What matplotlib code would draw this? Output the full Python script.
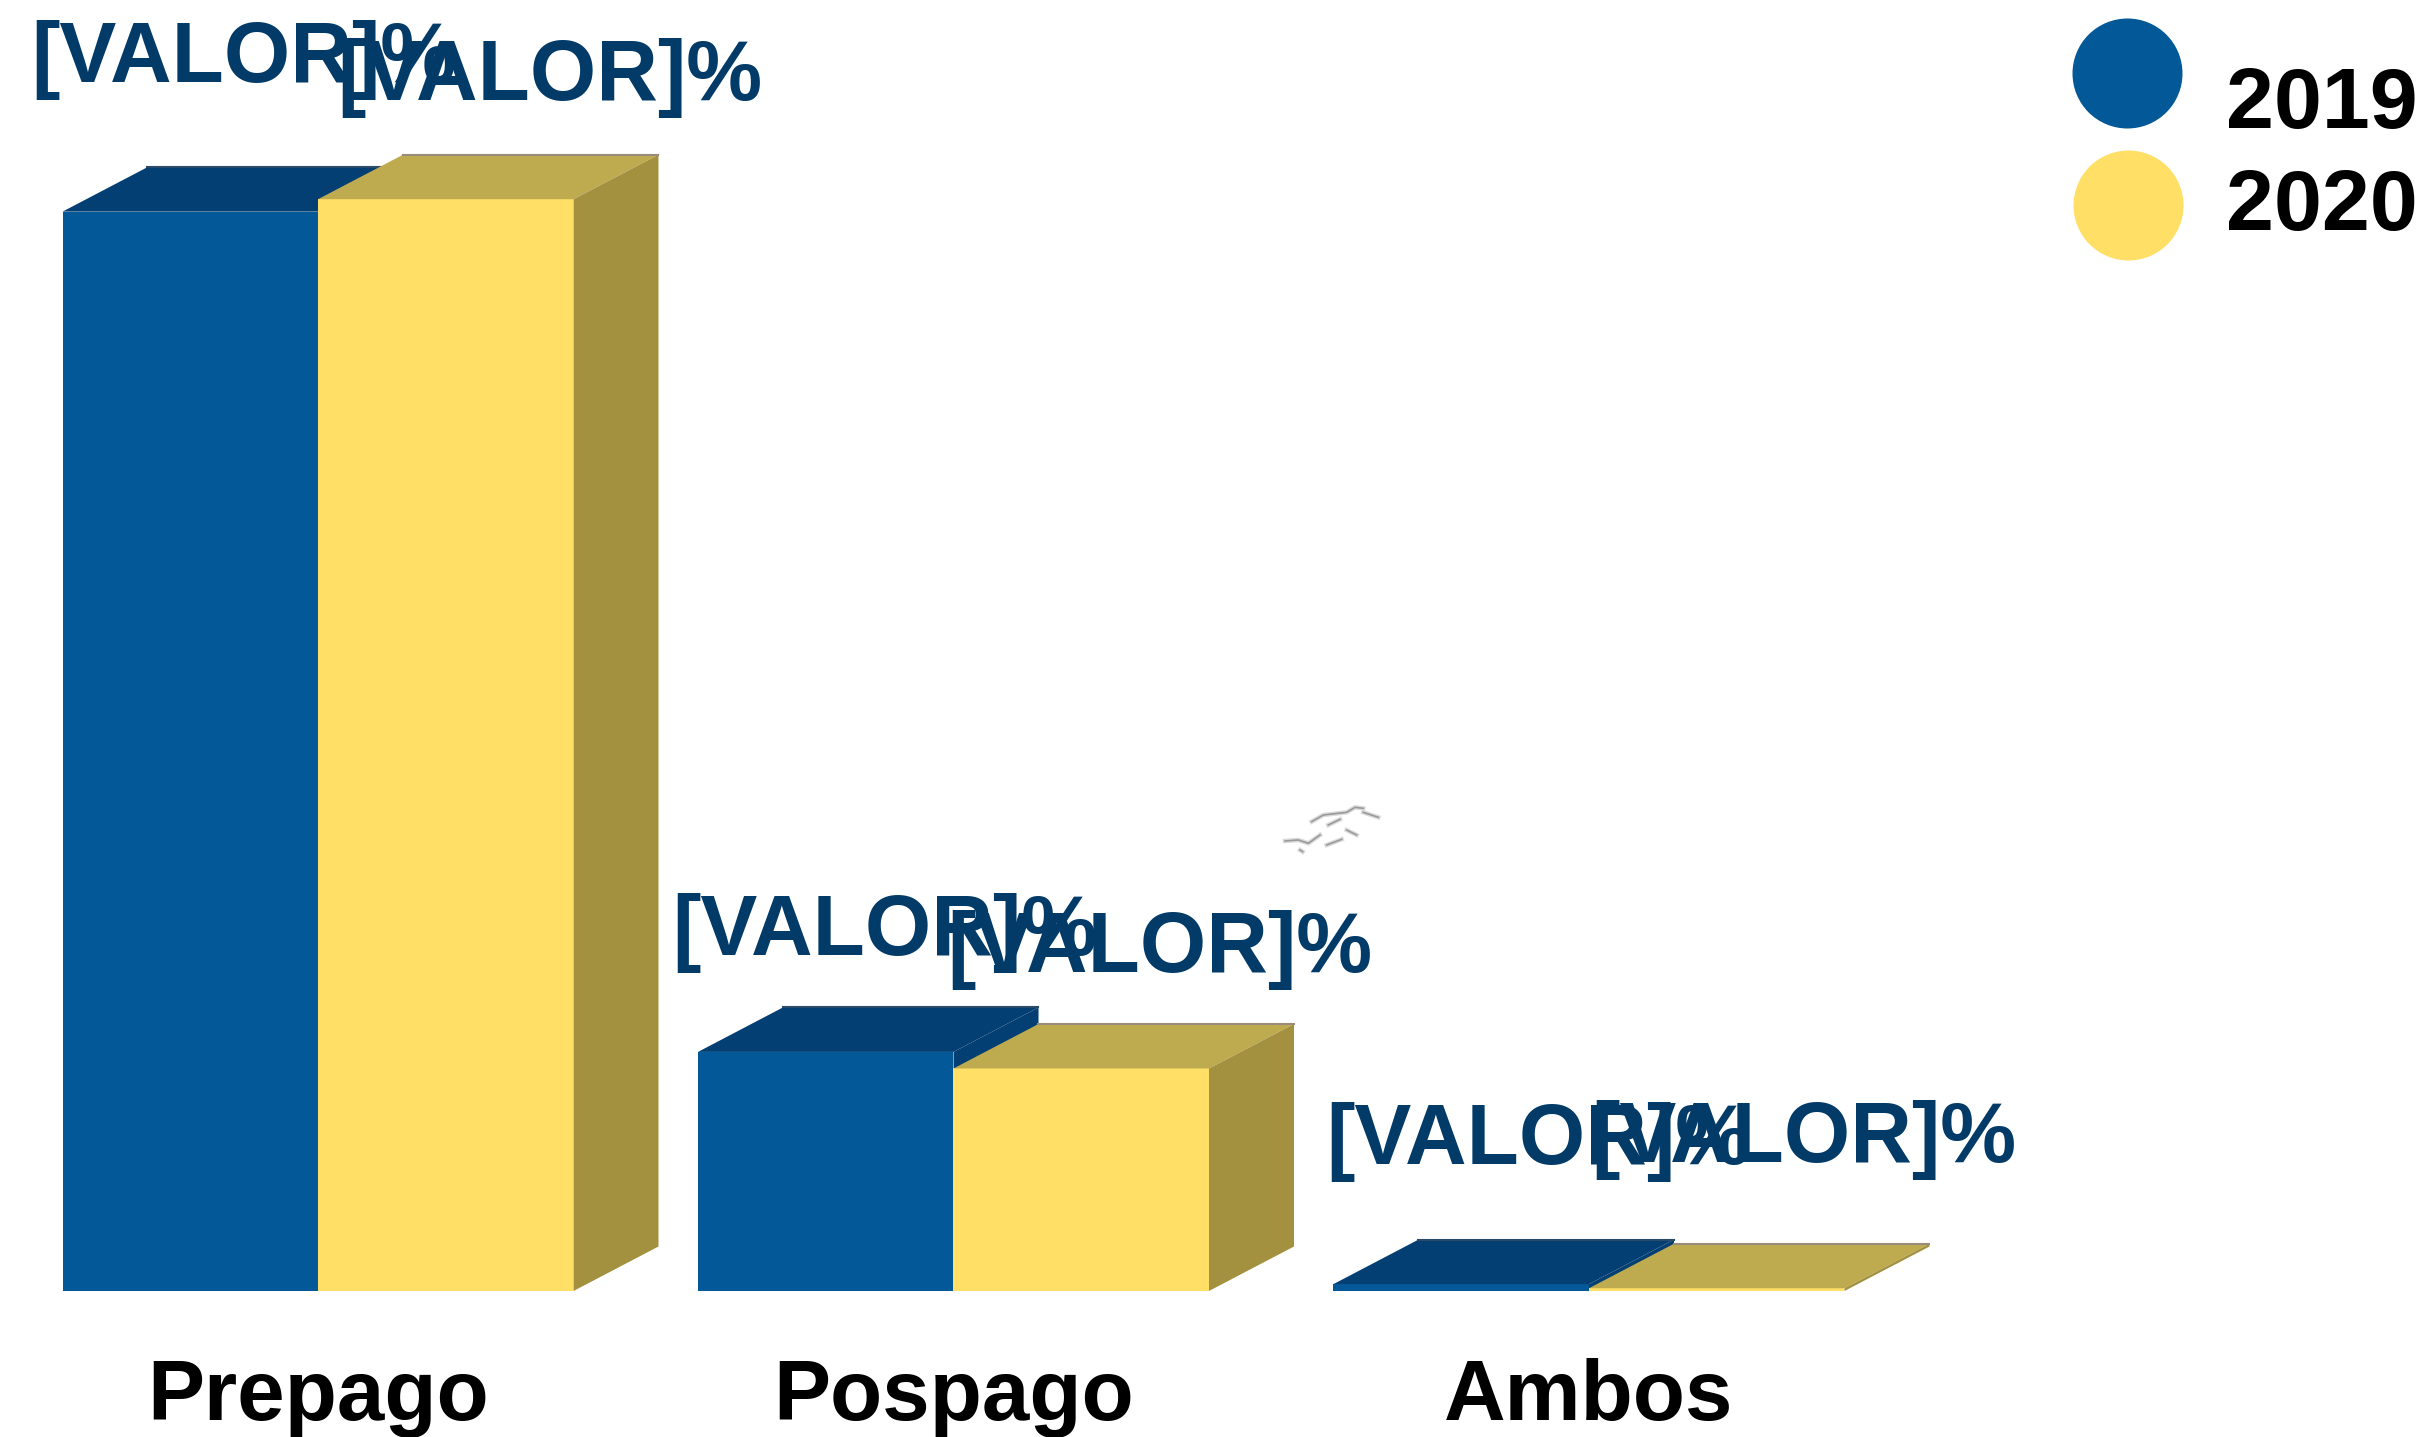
import matplotlib
matplotlib.use('Agg')
import matplotlib.pyplot as plt
from matplotlib.transforms import Affine2D

categories = ['Prepago', 'Pospago', 'Ambos']
years = ['2019', '2020']
values_2019 = [78.1, 17.3, 0.5]
values_2020 = [79.0, 16.1, 0.2]
value_label = '[VALOR]%'

plt.rcParams['font.family'] = ['Liberation Sans', 'DejaVu Sans']

W, H = 2423, 1437
px_x = 635.5   # pixels per category
px_y = 13.82   # pixels per percent
base_y = 1291
first_x = 318

fig = plt.figure(figsize=(W / 100, H / 100), dpi=100)
ax = fig.add_axes([0, 0, 1, 1])
ax.set_xlim(-first_x / px_x, (W - first_x) / px_x)
ax.set_ylim(-(H - base_y) / px_y, base_y / px_y)
ax.axis('off')

width = 255.5 / px_x
dx = 85 / px_x
dy = 44.5 / px_y


def bar3d(x0, v, front, top, side, back_line):
    # front face, then the top and right side for the depth
    ax.bar(x0, v, width=width, align='edge', color=front, linewidth=0, zorder=3)
    x1 = x0 + width
    ax.fill([x0, x1, x1 + dx, x0 + dx], [v, v, v + dy, v + dy], color=top, linewidth=0, zorder=3)
    ax.fill([x1, x1 + dx, x1 + dx, x1], [0, dy, v + dy, v], color=side, linewidth=0, zorder=3)
    # thin line along the back edge of the top
    ax.plot([x0 + dx, x1 + dx], [v + dy, v + dy], color=back_line, linewidth=1.5, zorder=3)


for i in range(len(categories)):
    bar3d(i - width, values_2019[i], '#035997', '#043F73', '#043F73', '#2A4A6A')
    bar3d(i, values_2020[i], '#FFDF65', '#BFAB4F', '#A39140', '#9A8C7A')

# value labels, offsets in pixels from the front top left corner of each bar
offsets_2019 = [(-31, 130), (-26, 97), (-7, 120)]
offsets_2020 = [(19, 99), (-6, 96), (2, 126)]
for i in range(len(categories)):
    ax.annotate(value_label, (i - width, values_2019[i]), xytext=offsets_2019[i],
                textcoords='offset pixels', fontsize=61.5, fontweight='bold',
                color='#023A68', ha='left', va='baseline')
    ax.annotate(value_label, (i, values_2020[i]), xytext=offsets_2020[i],
                textcoords='offset pixels', fontsize=61.5, fontweight='bold',
                color='#023A68', ha='left', va='baseline')

# category labels
for i, c in enumerate(categories):
    ax.annotate(c, (i, 0), xytext=(0, 1291 - 1420), textcoords='offset pixels',
                fontsize=61.5, fontweight='bold', color='black', ha='center', va='baseline')

# everything below is placed in image pixels, y going down
px = Affine2D().scale(1, -1).translate(0, H)

# legend
ax.scatter([2127], [73], s=6273, color='#035997', linewidth=0, transform=px, zorder=4)
ax.scatter([2128], [205], s=6273, color='#FFDF65', linewidth=0, transform=px, zorder=4)
ax.text(2226, 128, years[0], fontsize=62, fontweight='bold', color='black',
        ha='left', va='baseline', transform=px)
ax.text(2226, 230, years[1], fontsize=62, fontweight='bold', color='black',
        ha='left', va='baseline', transform=px)

# small grey smudge in the middle of the picture
smudge = [
    [(195, 183), (235, 180), (265, 190), (300, 165)],
    [(275, 125), (310, 105), (380, 97), (405, 82), (430, 85)],
    [(430, 97), (475, 112)],
    [(325, 135), (360, 118)],
    [(320, 195), (365, 178)],
    [(380, 150), (410, 165)],
    [(240, 210), (248, 215)],
]
for s in smudge:
    xs = [1220 + p[0] / 3 for p in s]
    ys = [780 + p[1] / 3 for p in s]
    ax.plot(xs, ys, color='#DADADA', linewidth=3.2, transform=px, zorder=2)
    ax.plot(xs, ys, color='#9A9A9A', linewidth=1.2, transform=px, zorder=2)

fig.savefig('out.png', dpi=100, facecolor='white')
